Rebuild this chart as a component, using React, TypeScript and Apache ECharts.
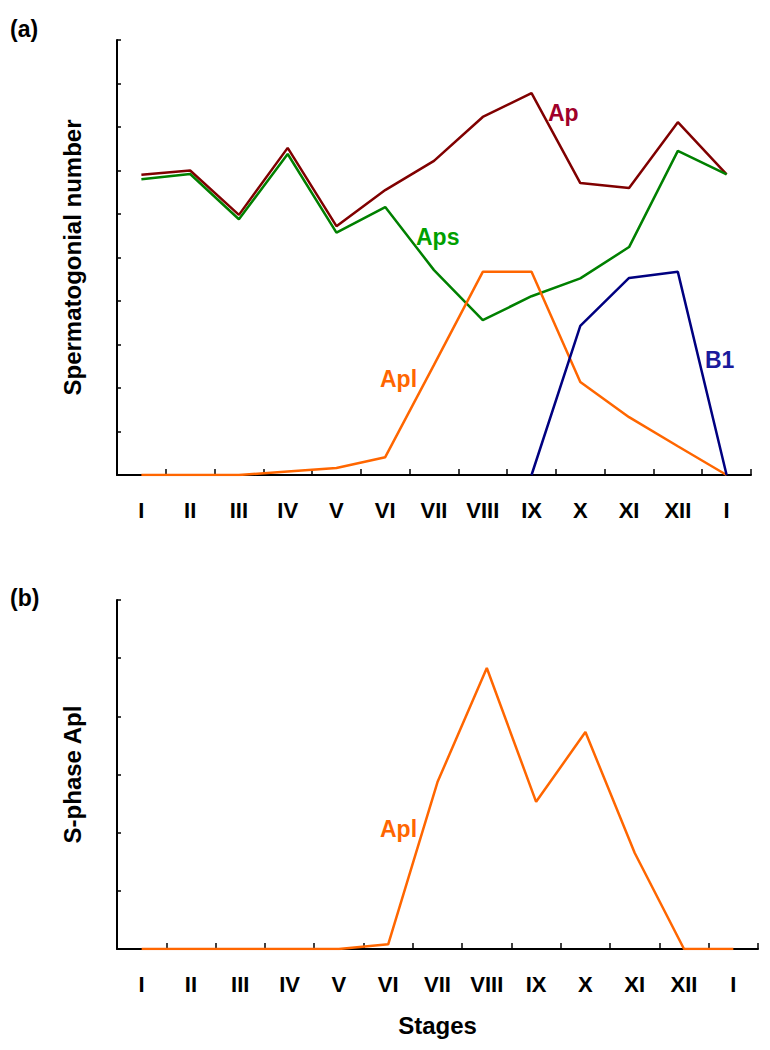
import React, { useEffect, useRef } from "react";
import * as echarts from "echarts";

const stages = ["I", "II", "III", "IV", "V", "VI", "VII", "VIII", "IX", "X", "XI", "XII", "I"];

// Panel (a): spermatogonial number (arbitrary units, axis 0-10)
const apValues = [6.9, 7.0, 5.98, 7.52, 5.72, 6.55, 7.22, 8.23, 8.78, 6.71, 6.6, 8.11, 6.91];
const apsValues = [6.8, 6.92, 5.88, 7.38, 5.57, 6.16, 4.71, 3.56, 4.11, 4.52, 5.24, 7.45, 6.91];
const aplValues = [0, 0, 0, 0.08, 0.16, 0.41, 2.53, 4.67, 4.67, 2.14, 1.33, 0.66, 0];
const b1Values = [null, null, null, null, null, null, null, null, 0, 3.43, 4.53, 4.67, 0];

// Panel (b): S-phase Apl (axis 0-6)
const sPhaseAplValues = [0, 0, 0, 0, 0, 0.08, 2.87, 4.83, 2.53, 3.73, 1.65, 0, 0];

const FONT = "'Liberation Sans', Arial, Helvetica, sans-serif";
const AP_LINE = "#800000";
const AP_TEXT = "#A0002A";
const APS_LINE = "#008000";
const APS_TEXT = "#00A000";
const APL = "#FF6600";
const B1_LINE = "#000080";
const B1_TEXT = "#1A1A9C";

export default function App() {
  const ref = useRef<HTMLDivElement>(null);

  useEffect(() => {
    document.body.style.margin = "0";
    if (!ref.current) return;
    const chart = echarts.init(ref.current, undefined, { renderer: "svg" });

    const xAxisCommon = {
      type: "category" as const,
      data: stages,
      boundaryGap: true,
      axisLine: { show: true, lineStyle: { color: "#000", width: 2 } },
      axisTick: { show: true, inside: true, length: 6, alignWithLabel: false, lineStyle: { color: "#000", width: 1.5 } },
      axisLabel: { color: "#000", fontFamily: FONT, fontWeight: "bold" as const, fontSize: 22, margin: 24, interval: 0 },
      splitLine: { show: false },
    };

    const yAxisCommon = {
      type: "value" as const,
      min: 0,
      interval: 1,
      axisLine: { show: true, lineStyle: { color: "#000", width: 2 } },
      axisTick: { show: true, inside: true, length: 4, lineStyle: { color: "#000", width: 1.5 } },
      axisLabel: { show: false },
      splitLine: { show: false },
      nameLocation: "middle" as const,
      nameTextStyle: { color: "#000", fontFamily: FONT, fontWeight: "bold" as const, fontSize: 24 },
    };

    const lineSeries = (name: string, data: (number | null)[], color: string, axis: number) => ({
      type: "line" as const,
      name,
      data,
      xAxisIndex: axis,
      yAxisIndex: axis,
      showSymbol: false,
      symbol: "none",
      connectNulls: false,
      lineStyle: { color, width: 2.5 },
      itemStyle: { color },
      z: 3,
    });

    const labelText = (text: string, x: number, y: number, color: string) => ({
      type: "text" as const,
      x,
      y,
      style: {
        text,
        fill: color,
        font: `bold 23px ${FONT}`,
        textAlign: "left" as const,
        textVerticalAlign: "middle" as const,
      },
      z: 10,
    });

    chart.setOption({
      animation: false,
      backgroundColor: "#fff",
      grid: [
        { left: 117, top: 40, width: 634, height: 435 },
        { left: 117, top: 600, width: 641, height: 349 },
      ],
      xAxis: [
        { ...xAxisCommon, gridIndex: 0 },
        {
          ...xAxisCommon,
          gridIndex: 1,
          name: "Stages",
          nameLocation: "middle",
          nameGap: 64,
          nameTextStyle: { color: "#000", fontFamily: FONT, fontWeight: "bold", fontSize: 24 },
        },
      ],
      yAxis: [
        { ...yAxisCommon, gridIndex: 0, max: 10, name: "Spermatogonial number", nameGap: 33 },
        { ...yAxisCommon, gridIndex: 1, max: 6, name: "S-phase Apl", nameGap: 33 },
      ],
      series: [
        lineSeries("Ap", apValues, AP_LINE, 0),
        lineSeries("Aps", apsValues, APS_LINE, 0),
        lineSeries("Apl", aplValues, APL, 0),
        lineSeries("B1", b1Values, B1_LINE, 0),
        lineSeries("S-phase Apl", sPhaseAplValues, APL, 1),
      ],
      graphic: [
        labelText("(a)", 10, 29, "#000"),
        labelText("(b)", 10, 598, "#000"),
        labelText("Ap", 548, 113, AP_TEXT),
        labelText("Aps", 416, 237, APS_TEXT),
        labelText("Apl", 380, 379, APL),
        labelText("B1", 705, 360, B1_TEXT),
        labelText("Apl", 380, 829, APL),
      ],
    });

    return () => chart.dispose();
  }, []);

  return <div ref={ref} style={{ width: 770, height: 1050 }} />;
}
